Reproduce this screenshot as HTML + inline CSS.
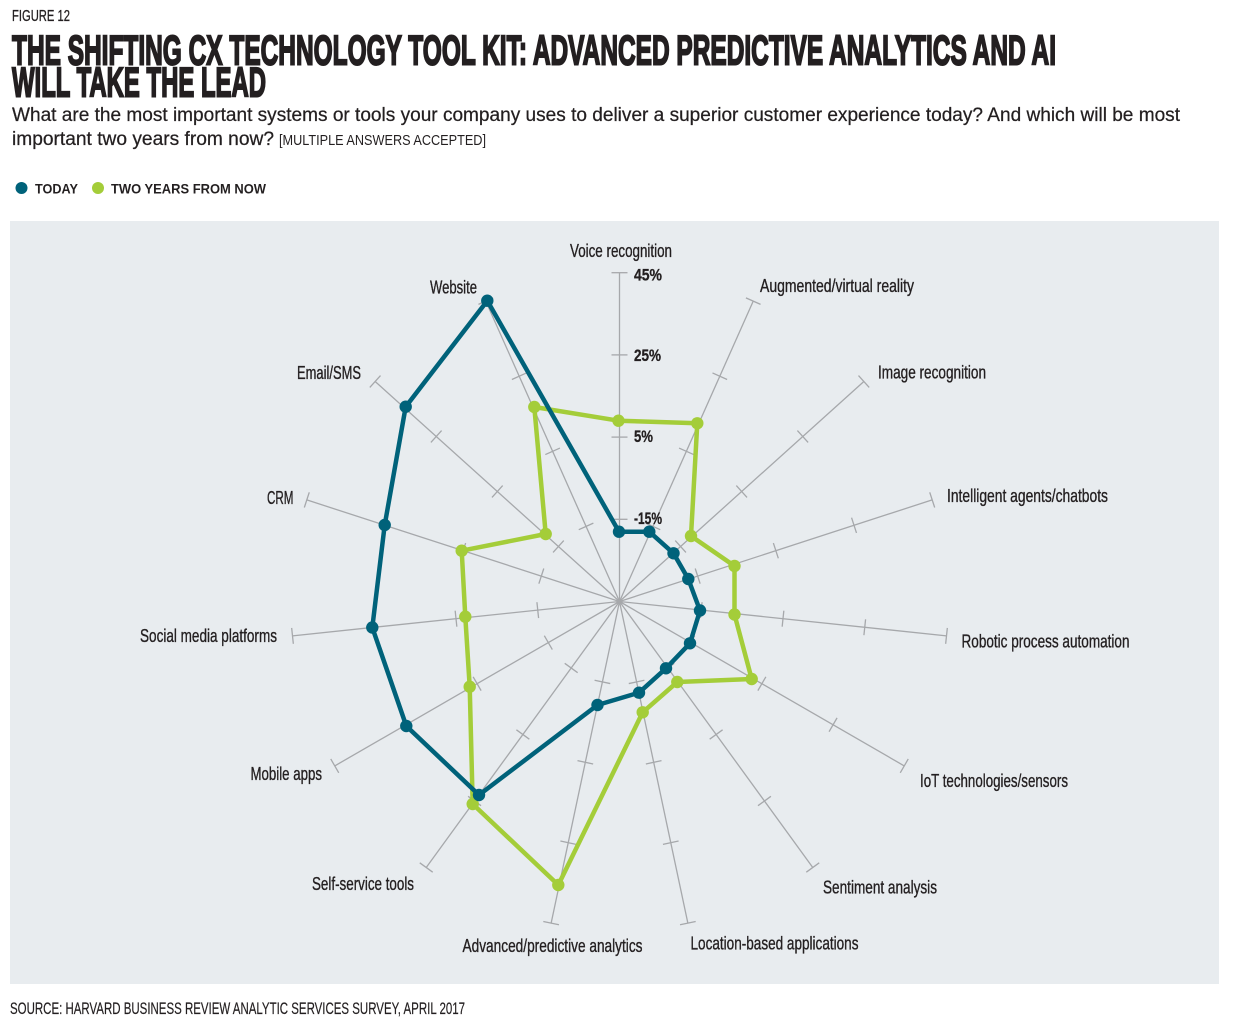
<!DOCTYPE html>
<html>
<head>
<meta charset="utf-8">
<style>
html,body{margin:0;padding:0;background:#fff;}
svg{display:block;}
text{font-family:"Liberation Sans",sans-serif;fill:#231f20;}
.lbl{font-size:18.5px;stroke:#231f20;stroke-width:0.35;}
.tk{font-size:17px;font-weight:bold;stroke:#231f20;stroke-width:0.3;}
</style>
</head>
<body>
<svg width="1235" height="1026" viewBox="0 0 1235 1026" xmlns="http://www.w3.org/2000/svg">
<rect x="0" y="0" width="1235" height="1026" fill="#ffffff"/>

<!-- Header -->
<text x="12" y="21" font-size="16" stroke="#231f20" stroke-width="0.3" textLength="58" lengthAdjust="spacingAndGlyphs">FIGURE 12</text>
<text x="12" y="64.5" font-size="42" font-weight="bold" stroke="#231f20" stroke-width="2" textLength="1044" lengthAdjust="spacingAndGlyphs">THE SHIFTING CX TECHNOLOGY TOOL KIT: ADVANCED PREDICTIVE ANALYTICS AND AI</text>
<text x="12" y="96.5" font-size="42" font-weight="bold" stroke="#231f20" stroke-width="2" textLength="254" lengthAdjust="spacingAndGlyphs">WILL TAKE THE LEAD</text>
<text x="12" y="121" font-size="19" stroke="#231f20" stroke-width="0.25" textLength="1168" lengthAdjust="spacingAndGlyphs">What are the most important systems or tools your company uses to deliver a superior customer experience today? And which will be most</text>
<text x="12" y="145" font-size="19" stroke="#231f20" stroke-width="0.25" textLength="262" lengthAdjust="spacingAndGlyphs">important two years from now?</text>
<text x="279" y="145" font-size="14.5" textLength="207" lengthAdjust="spacingAndGlyphs">[MULTIPLE ANSWERS ACCEPTED]</text>

<!-- Legend -->
<circle cx="21.5" cy="188" r="6" fill="#00627a"/>
<text x="35" y="193.5" font-size="14" font-weight="bold" textLength="43" lengthAdjust="spacingAndGlyphs">TODAY</text>
<circle cx="98" cy="188" r="6" fill="#a4cd39"/>
<text x="111" y="193.5" font-size="14" font-weight="bold" textLength="155" lengthAdjust="spacingAndGlyphs">TWO YEARS FROM NOW</text>

<!-- Panel -->
<rect x="10" y="221" width="1209" height="763" fill="#e8ecef"/>

<!-- Axes -->
<g stroke="#a6a8ab" stroke-width="1.3" fill="none">
  <g transform="translate(619.5,601.5) rotate(0)"><line x1="0" y1="0" x2="0" y2="-328.8"/><line x1="-8" y1="-82.2" x2="8" y2="-82.2"/><line x1="-8" y1="-164.4" x2="8" y2="-164.4"/><line x1="-8" y1="-246.6" x2="8" y2="-246.6"/><line x1="-8" y1="-328.8" x2="8" y2="-328.8"/></g>
  <g transform="translate(619.5,601.5) rotate(24)"><line x1="0" y1="0" x2="0" y2="-328.8"/><line x1="-8" y1="-82.2" x2="8" y2="-82.2"/><line x1="-8" y1="-164.4" x2="8" y2="-164.4"/><line x1="-8" y1="-246.6" x2="8" y2="-246.6"/><line x1="-8" y1="-328.8" x2="8" y2="-328.8"/></g>
  <g transform="translate(619.5,601.5) rotate(48)"><line x1="0" y1="0" x2="0" y2="-328.8"/><line x1="-8" y1="-82.2" x2="8" y2="-82.2"/><line x1="-8" y1="-164.4" x2="8" y2="-164.4"/><line x1="-8" y1="-246.6" x2="8" y2="-246.6"/><line x1="-8" y1="-328.8" x2="8" y2="-328.8"/></g>
  <g transform="translate(619.5,601.5) rotate(72)"><line x1="0" y1="0" x2="0" y2="-328.8"/><line x1="-8" y1="-82.2" x2="8" y2="-82.2"/><line x1="-8" y1="-164.4" x2="8" y2="-164.4"/><line x1="-8" y1="-246.6" x2="8" y2="-246.6"/><line x1="-8" y1="-328.8" x2="8" y2="-328.8"/></g>
  <g transform="translate(619.5,601.5) rotate(96)"><line x1="0" y1="0" x2="0" y2="-328.8"/><line x1="-8" y1="-82.2" x2="8" y2="-82.2"/><line x1="-8" y1="-164.4" x2="8" y2="-164.4"/><line x1="-8" y1="-246.6" x2="8" y2="-246.6"/><line x1="-8" y1="-328.8" x2="8" y2="-328.8"/></g>
  <g transform="translate(619.5,601.5) rotate(120)"><line x1="0" y1="0" x2="0" y2="-328.8"/><line x1="-8" y1="-82.2" x2="8" y2="-82.2"/><line x1="-8" y1="-164.4" x2="8" y2="-164.4"/><line x1="-8" y1="-246.6" x2="8" y2="-246.6"/><line x1="-8" y1="-328.8" x2="8" y2="-328.8"/></g>
  <g transform="translate(619.5,601.5) rotate(144)"><line x1="0" y1="0" x2="0" y2="-328.8"/><line x1="-8" y1="-82.2" x2="8" y2="-82.2"/><line x1="-8" y1="-164.4" x2="8" y2="-164.4"/><line x1="-8" y1="-246.6" x2="8" y2="-246.6"/><line x1="-8" y1="-328.8" x2="8" y2="-328.8"/></g>
  <g transform="translate(619.5,601.5) rotate(168)"><line x1="0" y1="0" x2="0" y2="-328.8"/><line x1="-8" y1="-82.2" x2="8" y2="-82.2"/><line x1="-8" y1="-164.4" x2="8" y2="-164.4"/><line x1="-8" y1="-246.6" x2="8" y2="-246.6"/><line x1="-8" y1="-328.8" x2="8" y2="-328.8"/></g>
  <g transform="translate(619.5,601.5) rotate(192)"><line x1="0" y1="0" x2="0" y2="-328.8"/><line x1="-8" y1="-82.2" x2="8" y2="-82.2"/><line x1="-8" y1="-164.4" x2="8" y2="-164.4"/><line x1="-8" y1="-246.6" x2="8" y2="-246.6"/><line x1="-8" y1="-328.8" x2="8" y2="-328.8"/></g>
  <g transform="translate(619.5,601.5) rotate(216)"><line x1="0" y1="0" x2="0" y2="-328.8"/><line x1="-8" y1="-82.2" x2="8" y2="-82.2"/><line x1="-8" y1="-164.4" x2="8" y2="-164.4"/><line x1="-8" y1="-246.6" x2="8" y2="-246.6"/><line x1="-8" y1="-328.8" x2="8" y2="-328.8"/></g>
  <g transform="translate(619.5,601.5) rotate(240)"><line x1="0" y1="0" x2="0" y2="-328.8"/><line x1="-8" y1="-82.2" x2="8" y2="-82.2"/><line x1="-8" y1="-164.4" x2="8" y2="-164.4"/><line x1="-8" y1="-246.6" x2="8" y2="-246.6"/><line x1="-8" y1="-328.8" x2="8" y2="-328.8"/></g>
  <g transform="translate(619.5,601.5) rotate(264)"><line x1="0" y1="0" x2="0" y2="-328.8"/><line x1="-8" y1="-82.2" x2="8" y2="-82.2"/><line x1="-8" y1="-164.4" x2="8" y2="-164.4"/><line x1="-8" y1="-246.6" x2="8" y2="-246.6"/><line x1="-8" y1="-328.8" x2="8" y2="-328.8"/></g>
  <g transform="translate(619.5,601.5) rotate(288)"><line x1="0" y1="0" x2="0" y2="-328.8"/><line x1="-8" y1="-82.2" x2="8" y2="-82.2"/><line x1="-8" y1="-164.4" x2="8" y2="-164.4"/><line x1="-8" y1="-246.6" x2="8" y2="-246.6"/><line x1="-8" y1="-328.8" x2="8" y2="-328.8"/></g>
  <g transform="translate(619.5,601.5) rotate(312)"><line x1="0" y1="0" x2="0" y2="-328.8"/><line x1="-8" y1="-82.2" x2="8" y2="-82.2"/><line x1="-8" y1="-164.4" x2="8" y2="-164.4"/><line x1="-8" y1="-246.6" x2="8" y2="-246.6"/><line x1="-8" y1="-328.8" x2="8" y2="-328.8"/></g>
  <g transform="translate(619.5,601.5) rotate(336)"><line x1="0" y1="0" x2="0" y2="-328.8"/><line x1="-8" y1="-82.2" x2="8" y2="-82.2"/><line x1="-8" y1="-164.4" x2="8" y2="-164.4"/><line x1="-8" y1="-246.6" x2="8" y2="-246.6"/><line x1="-8" y1="-328.8" x2="8" y2="-328.8"/></g>
</g>

<!-- Tick labels -->
<text class="tk" x="634" y="280.5" textLength="28" lengthAdjust="spacingAndGlyphs">45%</text>
<text class="tk" x="634" y="361" textLength="27" lengthAdjust="spacingAndGlyphs">25%</text>
<text class="tk" x="634" y="442" textLength="19" lengthAdjust="spacingAndGlyphs">5%</text>
<text class="tk" x="634" y="524" textLength="28" lengthAdjust="spacingAndGlyphs">-15%</text>

<!-- Two years from now (green) -->
<g>
<polygon fill="none" stroke="#a4cd39" stroke-width="4.5" stroke-linejoin="round" points="618.5,420.7 697.3,423.3 691,536 734.5,566 734.5,614.5 751.7,679 677.3,682 642.7,712.3 558.3,885 472.7,804 469.7,686.7 465.3,616.7 461.7,550.7 545.7,534 534.3,407"/>
<g fill="#a4cd39">
<circle cx="618.5" cy="420.7" r="6.2"/><circle cx="697.3" cy="423.3" r="6.2"/><circle cx="691" cy="536" r="6.2"/><circle cx="734.5" cy="566" r="6.2"/><circle cx="734.5" cy="614.5" r="6.2"/><circle cx="751.7" cy="679" r="6.2"/><circle cx="677.3" cy="682" r="6.2"/><circle cx="642.7" cy="712.3" r="6.2"/><circle cx="558.3" cy="885" r="6.2"/><circle cx="472.7" cy="804" r="6.2"/><circle cx="469.7" cy="686.7" r="6.2"/><circle cx="465.3" cy="616.7" r="6.2"/><circle cx="461.7" cy="550.7" r="6.2"/><circle cx="545.7" cy="534" r="6.2"/><circle cx="534.3" cy="407" r="6.2"/>
</g>
</g>

<!-- Today (teal) -->
<g>
<polygon fill="none" stroke="#00627a" stroke-width="4.5" stroke-linejoin="round" points="619,531.7 649.3,531.7 673.5,553.3 688.3,579 700,610.5 690,643.3 666,668.3 639,692.7 597.5,705 479,795 406.3,726 372.3,627.5 384.7,525 405.7,406.7 487.3,300.7"/>
<g fill="#00627a">
<circle cx="619" cy="531.7" r="6.2"/><circle cx="649.3" cy="531.7" r="6.2"/><circle cx="673.5" cy="553.3" r="6.2"/><circle cx="688.3" cy="579" r="6.2"/><circle cx="700" cy="610.5" r="6.2"/><circle cx="690" cy="643.3" r="6.2"/><circle cx="666" cy="668.3" r="6.2"/><circle cx="639" cy="692.7" r="6.2"/><circle cx="597.5" cy="705" r="6.2"/><circle cx="479" cy="795" r="6.2"/><circle cx="406.3" cy="726" r="6.2"/><circle cx="372.3" cy="627.5" r="6.2"/><circle cx="384.7" cy="525" r="6.2"/><circle cx="405.7" cy="406.7" r="6.2"/><circle cx="487.3" cy="300.7" r="6.2"/>
</g>
</g>

<!-- Axis labels -->
<text class="lbl" x="570" y="257" textLength="102" lengthAdjust="spacingAndGlyphs">Voice recognition</text>
<text class="lbl" x="760" y="292" textLength="154" lengthAdjust="spacingAndGlyphs">Augmented/virtual reality</text>
<text class="lbl" x="878" y="378.5" textLength="108" lengthAdjust="spacingAndGlyphs">Image recognition</text>
<text class="lbl" x="947" y="502" textLength="161" lengthAdjust="spacingAndGlyphs">Intelligent agents/chatbots</text>
<text class="lbl" x="961.5" y="647.5" textLength="168" lengthAdjust="spacingAndGlyphs">Robotic process automation</text>
<text class="lbl" x="920" y="787" textLength="148" lengthAdjust="spacingAndGlyphs">IoT technologies/sensors</text>
<text class="lbl" x="823" y="893.5" textLength="114" lengthAdjust="spacingAndGlyphs">Sentiment analysis</text>
<text class="lbl" x="690.5" y="949.5" textLength="168" lengthAdjust="spacingAndGlyphs">Location-based applications</text>
<text class="lbl" x="462.5" y="952" textLength="180" lengthAdjust="spacingAndGlyphs">Advanced/predictive analytics</text>
<text class="lbl" x="312" y="890" textLength="102" lengthAdjust="spacingAndGlyphs">Self-service tools</text>
<text class="lbl" x="250.5" y="780" textLength="71.5" lengthAdjust="spacingAndGlyphs">Mobile apps</text>
<text class="lbl" x="140" y="642" textLength="137" lengthAdjust="spacingAndGlyphs">Social media platforms</text>
<text class="lbl" x="267" y="504" textLength="26.5" lengthAdjust="spacingAndGlyphs">CRM</text>
<text class="lbl" x="297" y="379" textLength="64" lengthAdjust="spacingAndGlyphs">Email/SMS</text>
<text class="lbl" x="430" y="293.5" textLength="47" lengthAdjust="spacingAndGlyphs">Website</text>

<!-- Source -->
<text x="10" y="1014" font-size="16.5" stroke="#231f20" stroke-width="0.2" textLength="455" lengthAdjust="spacingAndGlyphs">SOURCE: HARVARD BUSINESS REVIEW ANALYTIC SERVICES SURVEY, APRIL 2017</text>
</svg>
</body>
</html>
